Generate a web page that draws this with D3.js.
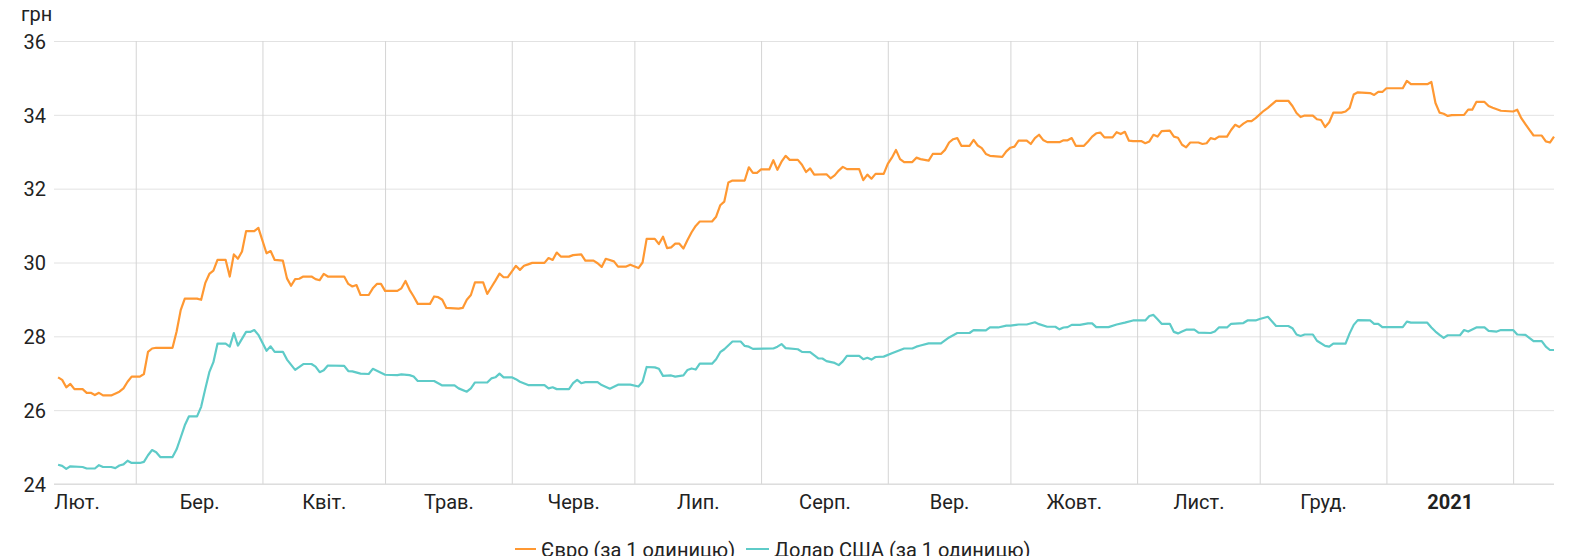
<!DOCTYPE html>
<html><head><meta charset="utf-8">
<script src="https://cdn.jsdelivr.net/npm/d3@7"></script>
<style>
html,body{margin:0;padding:0;background:#fff;overflow:hidden}
svg{display:block;font-family:Roboto,"Noto Sans",sans-serif}
</style></head><body>
<svg id="chart" width="1577" height="556"></svg>
<script>
const yTicks = [24, 26, 28, 30, 32, 34, 36];
const monthLabels = ["Лют.","Бер.","Квіт.","Трав.","Черв.","Лип.","Серп.","Вер.","Жовт.","Лист.","Груд.","2021"];
const seriesNames = ["Євро (за 1 одиницю)", "Долар США (за 1 одиницю)"];
const yUnit = "грн";

const euroRates = [
["2020-02-11",26.89],["2020-02-12",26.82],["2020-02-13",26.62],["2020-02-14",26.71],["2020-02-15",26.57],["2020-02-17",26.57],["2020-02-18",26.47],["2020-02-19",26.47],["2020-02-20",26.41],["2020-02-21",26.47],["2020-02-22",26.40],["2020-02-24",26.40],["2020-02-26",26.50],["2020-02-27",26.59],["2020-02-28",26.77],["2020-02-29",26.91],
["2020-03-02",26.91],["2020-03-03",26.98],["2020-03-04",27.58],["2020-03-05",27.67],["2020-03-06",27.69],["2020-03-10",27.69],["2020-03-11",28.13],["2020-03-12",28.71],["2020-03-13",29.02],["2020-03-16",29.02],["2020-03-17",28.99],["2020-03-18",29.44],["2020-03-19",29.69],["2020-03-20",29.78],["2020-03-21",30.07],["2020-03-23",30.07],["2020-03-24",29.62],["2020-03-25",30.22],["2020-03-26",30.10],["2020-03-27",30.30],["2020-03-28",30.85],["2020-03-30",30.85],["2020-03-31",30.94],
["2020-04-02",30.25],["2020-04-03",30.31],["2020-04-04",30.07],["2020-04-06",30.05],["2020-04-07",29.57],["2020-04-08",29.37],["2020-04-09",29.55],["2020-04-10",29.56],["2020-04-11",29.62],["2020-04-13",29.62],["2020-04-14",29.55],["2020-04-15",29.52],["2020-04-16",29.69],["2020-04-17",29.62],["2020-04-21",29.62],["2020-04-22",29.42],["2020-04-23",29.35],["2020-04-24",29.39],["2020-04-25",29.12],["2020-04-27",29.12],["2020-04-28",29.30],["2020-04-29",29.42],["2020-04-30",29.42],
["2020-05-01",29.23],["2020-05-04",29.23],["2020-05-05",29.30],["2020-05-06",29.50],["2020-05-07",29.26],["2020-05-08",29.08],["2020-05-09",28.88],["2020-05-12",28.88],["2020-05-13",29.08],["2020-05-14",29.06],["2020-05-15",28.99],["2020-05-16",28.77],["2020-05-19",28.75],["2020-05-20",28.77],["2020-05-21",28.99],["2020-05-22",29.12],["2020-05-23",29.46],["2020-05-25",29.46],["2020-05-26",29.15],["2020-05-27",29.33],["2020-05-28",29.51],["2020-05-29",29.70],["2020-05-30",29.60],["2020-05-31",29.60],
["2020-06-02",29.91],["2020-06-03",29.80],["2020-06-04",29.91],["2020-06-05",29.95],["2020-06-06",29.99],["2020-06-09",29.99],["2020-06-10",30.12],["2020-06-11",30.07],["2020-06-12",30.27],["2020-06-13",30.16],["2020-06-15",30.16],["2020-06-16",30.20],["2020-06-18",30.22],["2020-06-19",30.05],["2020-06-21",30.05],["2020-06-22",29.98],["2020-06-23",29.88],["2020-06-24",30.10],["2020-06-26",30.03],["2020-06-27",29.89],["2020-06-29",29.89],["2020-06-30",29.94],
["2020-07-02",29.85],["2020-07-03",30.00],["2020-07-04",30.64],["2020-07-06",30.64],["2020-07-07",30.50],["2020-07-08",30.70],["2020-07-09",30.39],["2020-07-10",30.41],["2020-07-11",30.51],["2020-07-12",30.51],["2020-07-13",30.38],["2020-07-14",30.61],["2020-07-15",30.82],["2020-07-16",30.99],["2020-07-17",31.11],["2020-07-20",31.11],["2020-07-21",31.24],["2020-07-22",31.55],["2020-07-23",31.65],["2020-07-24",32.17],["2020-07-25",32.22],["2020-07-28",32.22],["2020-07-29",32.58],["2020-07-30",32.43],["2020-07-31",32.43],
["2020-08-01",32.52],["2020-08-03",32.52],["2020-08-04",32.77],["2020-08-05",32.51],["2020-08-06",32.73],["2020-08-07",32.89],["2020-08-08",32.78],["2020-08-10",32.78],["2020-08-11",32.65],["2020-08-12",32.45],["2020-08-13",32.55],["2020-08-14",32.38],["2020-08-17",32.39],["2020-08-18",32.28],["2020-08-19",32.36],["2020-08-20",32.49],["2020-08-21",32.59],["2020-08-22",32.53],["2020-08-25",32.53],["2020-08-26",32.23],["2020-08-27",32.38],["2020-08-28",32.27],["2020-08-29",32.40],["2020-08-31",32.40],
["2020-09-01",32.67],["2020-09-02",32.84],["2020-09-03",33.05],["2020-09-04",32.80],["2020-09-05",32.72],["2020-09-07",32.72],["2020-09-08",32.84],["2020-09-09",32.80],["2020-09-11",32.76],["2020-09-12",32.94],["2020-09-14",32.94],["2020-09-15",33.05],["2020-09-16",33.25],["2020-09-17",33.34],["2020-09-18",33.37],["2020-09-19",33.16],["2020-09-21",33.16],["2020-09-22",33.32],["2020-09-23",33.17],["2020-09-24",33.10],["2020-09-25",32.94],["2020-09-26",32.89],["2020-09-29",32.86],["2020-09-30",33.01],
["2020-10-01",33.11],["2020-10-02",33.14],["2020-10-03",33.30],["2020-10-05",33.30],["2020-10-06",33.21],["2020-10-07",33.37],["2020-10-08",33.46],["2020-10-09",33.32],["2020-10-10",33.26],["2020-10-13",33.26],["2020-10-14",33.31],["2020-10-15",33.31],["2020-10-16",33.37],["2020-10-17",33.16],["2020-10-19",33.16],["2020-10-20",33.28],["2020-10-21",33.41],["2020-10-22",33.50],["2020-10-23",33.52],["2020-10-24",33.39],["2020-10-26",33.39],["2020-10-27",33.53],["2020-10-28",33.48],["2020-10-29",33.54],["2020-10-30",33.30],["2020-10-31",33.29],
["2020-11-02",33.29],["2020-11-03",33.23],["2020-11-04",33.28],["2020-11-05",33.46],["2020-11-06",33.41],["2020-11-07",33.56],["2020-11-09",33.57],["2020-11-10",33.41],["2020-11-11",33.38],["2020-11-12",33.19],["2020-11-13",33.12],["2020-11-14",33.25],["2020-11-16",33.25],["2020-11-17",33.21],["2020-11-18",33.23],["2020-11-19",33.37],["2020-11-20",33.34],["2020-11-21",33.41],["2020-11-23",33.41],["2020-11-24",33.59],["2020-11-25",33.73],["2020-11-26",33.67],["2020-11-27",33.76],["2020-11-28",33.83],["2020-11-29",33.83],["2020-11-30",33.91],
["2020-12-02",34.11],["2020-12-03",34.19],["2020-12-05",34.38],["2020-12-08",34.38],["2020-12-09",34.24],["2020-12-10",34.05],["2020-12-11",33.94],["2020-12-12",33.98],["2020-12-14",33.98],["2020-12-15",33.88],["2020-12-16",33.86],["2020-12-17",33.67],["2020-12-18",33.80],["2020-12-19",34.06],["2020-12-21",34.06],["2020-12-22",34.09],["2020-12-23",34.19],["2020-12-24",34.55],["2020-12-25",34.61],["2020-12-28",34.59],["2020-12-29",34.54],["2020-12-30",34.62],["2020-12-31",34.62],
["2021-01-01",34.72],["2021-01-05",34.72],["2021-01-06",34.92],["2021-01-07",34.83],["2021-01-11",34.83],["2021-01-12",34.89],["2021-01-13",34.32],["2021-01-14",34.06],["2021-01-15",34.03],["2021-01-16",33.97],["2021-01-17",33.99],["2021-01-20",34.00],["2021-01-21",34.14],["2021-01-22",34.14],["2021-01-23",34.35],["2021-01-25",34.35],["2021-01-26",34.24],["2021-01-27",34.19],["2021-01-29",34.11],
["2021-02-01",34.09],["2021-02-02",34.14],["2021-02-03",33.91],["2021-02-04",33.75],["2021-02-05",33.59],["2021-02-06",33.44],["2021-02-08",33.44],["2021-02-09",33.28],["2021-02-10",33.25],["2021-02-11",33.41]
];

const usdRates = [
["2020-02-11",24.52],["2020-02-12",24.49],["2020-02-13",24.41],["2020-02-14",24.48],["2020-02-17",24.46],["2020-02-18",24.42],["2020-02-20",24.42],["2020-02-21",24.51],["2020-02-22",24.46],["2020-02-24",24.46],["2020-02-25",24.43],["2020-02-26",24.50],["2020-02-27",24.53],["2020-02-28",24.63],["2020-02-29",24.57],
["2020-03-02",24.57],["2020-03-03",24.60],["2020-03-04",24.78],["2020-03-05",24.92],["2020-03-06",24.86],["2020-03-07",24.73],["2020-03-10",24.73],["2020-03-11",24.94],["2020-03-12",25.26],["2020-03-13",25.59],["2020-03-14",25.83],["2020-03-16",25.83],["2020-03-17",26.09],["2020-03-18",26.57],["2020-03-19",27.03],["2020-03-20",27.30],["2020-03-21",27.80],["2020-03-23",27.80],["2020-03-24",27.72],["2020-03-25",28.09],["2020-03-26",27.75],["2020-03-28",28.12],["2020-03-29",28.12],["2020-03-30",28.17],["2020-03-31",28.04],
["2020-04-02",27.61],["2020-04-03",27.73],["2020-04-04",27.58],["2020-04-06",27.58],["2020-04-07",27.37],["2020-04-09",27.09],["2020-04-11",27.25],["2020-04-13",27.25],["2020-04-14",27.18],["2020-04-15",27.03],["2020-04-16",27.08],["2020-04-17",27.21],["2020-04-21",27.20],["2020-04-22",27.06],["2020-04-23",27.05],["2020-04-25",26.99],["2020-04-27",26.98],["2020-04-28",27.12],["2020-04-29",27.07],
["2020-05-01",26.96],["2020-05-04",26.95],["2020-05-05",26.97],["2020-05-07",26.95],["2020-05-08",26.91],["2020-05-09",26.79],["2020-05-13",26.79],["2020-05-15",26.67],["2020-05-18",26.67],["2020-05-19",26.59],["2020-05-21",26.50],["2020-05-22",26.59],["2020-05-23",26.75],["2020-05-26",26.75],["2020-05-27",26.86],["2020-05-28",26.89],["2020-05-29",26.99],["2020-05-30",26.89],
["2020-06-01",26.89],["2020-06-02",26.84],["2020-06-03",26.77],["2020-06-05",26.68],["2020-06-09",26.68],["2020-06-10",26.59],["2020-06-11",26.62],["2020-06-12",26.57],["2020-06-15",26.57],["2020-06-16",26.73],["2020-06-17",26.82],["2020-06-18",26.73],["2020-06-19",26.76],["2020-06-22",26.76],["2020-06-23",26.68],["2020-06-25",26.58],["2020-06-27",26.69],["2020-06-30",26.69],
["2020-07-02",26.64],["2020-07-03",26.77],["2020-07-04",27.17],["2020-07-06",27.16],["2020-07-07",27.12],["2020-07-08",26.93],["2020-07-10",26.94],["2020-07-11",26.91],["2020-07-13",26.94],["2020-07-14",27.09],["2020-07-15",27.13],["2020-07-16",27.10],["2020-07-17",27.26],["2020-07-20",27.26],["2020-07-21",27.38],["2020-07-22",27.57],["2020-07-23",27.65],["2020-07-25",27.86],["2020-07-27",27.86],["2020-07-28",27.74],["2020-07-29",27.72],["2020-07-30",27.66],
["2020-08-04",27.67],["2020-08-05",27.72],["2020-08-06",27.79],["2020-08-07",27.68],["2020-08-10",27.65],["2020-08-11",27.58],["2020-08-13",27.57],["2020-08-15",27.40],["2020-08-16",27.40],["2020-08-17",27.33],["2020-08-19",27.28],["2020-08-20",27.22],["2020-08-21",27.32],["2020-08-22",27.47],["2020-08-25",27.47],["2020-08-26",27.38],["2020-08-27",27.42],["2020-08-28",27.37],["2020-08-29",27.44],["2020-08-31",27.45],
["2020-09-02",27.54],["2020-09-05",27.67],["2020-09-07",27.67],["2020-09-08",27.72],["2020-09-09",27.75],["2020-09-11",27.81],["2020-09-14",27.81],["2020-09-16",27.97],["2020-09-18",28.09],["2020-09-21",28.09],["2020-09-22",28.17],["2020-09-25",28.16],["2020-09-26",28.24],["2020-09-28",28.24],["2020-09-30",28.29],
["2020-10-01",28.29],["2020-10-03",28.32],["2020-10-05",28.32],["2020-10-07",28.38],["2020-10-08",28.33],["2020-10-10",28.26],["2020-10-12",28.26],["2020-10-13",28.19],["2020-10-14",28.24],["2020-10-15",28.25],["2020-10-16",28.31],["2020-10-18",28.31],["2020-10-20",28.35],["2020-10-21",28.35],["2020-10-22",28.25],["2020-10-25",28.25],["2020-10-27",28.32],["2020-10-29",28.37],["2020-10-31",28.43],
["2020-11-03",28.43],["2020-11-04",28.55],["2020-11-05",28.58],["2020-11-06",28.46],["2020-11-07",28.34],["2020-11-09",28.34],["2020-11-10",28.12],["2020-11-11",28.08],["2020-11-12",28.13],["2020-11-13",28.18],["2020-11-15",28.18],["2020-11-16",28.10],["2020-11-19",28.09],["2020-11-20",28.13],["2020-11-21",28.24],["2020-11-23",28.24],["2020-11-24",28.34],["2020-11-27",28.36],["2020-11-28",28.43],["2020-11-30",28.43],
["2020-12-01",28.47],["2020-12-03",28.53],["2020-12-05",28.28],["2020-12-08",28.28],["2020-12-09",28.22],["2020-12-10",28.05],["2020-12-11",28.01],["2020-12-12",28.05],["2020-12-14",28.05],["2020-12-15",27.88],["2020-12-17",27.74],["2020-12-18",27.72],["2020-12-19",27.80],["2020-12-22",27.80],["2020-12-23",28.08],["2020-12-24",28.31],["2020-12-25",28.44],["2020-12-28",28.43],["2020-12-29",28.34],["2020-12-30",28.34],["2020-12-31",28.25],
["2021-01-05",28.25],["2021-01-06",28.40],["2021-01-07",28.37],["2021-01-11",28.37],["2021-01-12",28.24],["2021-01-13",28.13],["2021-01-14",28.04],["2021-01-15",27.96],["2021-01-16",28.03],["2021-01-19",28.03],["2021-01-20",28.17],["2021-01-21",28.13],["2021-01-23",28.24],["2021-01-25",28.24],["2021-01-26",28.15],["2021-01-28",28.13],["2021-01-29",28.17],
["2021-02-01",28.17],["2021-02-02",28.05],["2021-02-04",28.04],["2021-02-06",27.87],["2021-02-08",27.87],["2021-02-09",27.72],["2021-02-10",27.63],["2021-02-11",27.63]
];

const colors = ["#ff9832", "#5ecbc8"];
const FONT = "Roboto, 'Noto Sans', sans-serif";

const svg = d3.select("#chart");
const mLeft = 54, mRight = 1554, mTop = 41, mBottom = 484;
const parse = d3.utcParse("%Y-%m-%d");
const startDate = parse("2020-02-10"), endDate = parse("2021-02-11");

const x = d3.scaleUtc().domain([startDate, endDate]).range([mLeft, mRight]);
const y = d3.scaleLinear().domain([24, 36]).range([mBottom, mTop]);

// horizontal grid
svg.append("g").attr("transform", `translate(${mLeft},0)`)
  .call(d3.axisLeft(y).tickValues(yTicks).tickSize(-(mRight-mLeft)).tickFormat(""))
  .call(g => g.select(".domain").remove())
  .call(g => g.selectAll("line").attr("stroke", "#e2e2e2").attr("stroke-width", 1));

// vertical month grid
const monthStarts = d3.utcMonth.range(d3.utcMonth.ceil(startDate), endDate);
svg.append("g").attr("transform", `translate(0,${mBottom})`)
  .call(d3.axisBottom(x).tickValues(monthStarts).tickSize(-(mBottom-mTop)).tickFormat(""))
  .call(g => g.select(".domain").remove())
  .call(g => g.selectAll("line").attr("stroke", "#d4d4d4").attr("stroke-width", 1));

// baseline
svg.append("line").attr("x1", mLeft).attr("x2", mRight).attr("y1", y(24)).attr("y2", y(24))
  .attr("stroke", "#d8d8d8");

// y labels
svg.append("g").attr("transform", `translate(46,0)`)
  .call(d3.axisLeft(y).tickValues(yTicks).tickSize(0).tickPadding(0).tickFormat(d3.format("d")))
  .call(g => g.select(".domain").remove())
  .attr("font-family", FONT).attr("font-size", 20)
  .call(g => g.selectAll("text").attr("fill", "#222").attr("dy", "0.36em"));

svg.append("text").attr("x", 21).attr("y", 21).attr("fill", "#222")
  .attr("font-family", FONT).attr("font-size", 20).text(yUnit);

// month labels centred in each month
const monthFirsts = d3.utcMonth.range(d3.utcMonth.floor(startDate), d3.utcMonth.floor(endDate));
const mids = monthFirsts.map(m => new Date((m.getTime() + d3.utcMonth.offset(m, 1).getTime()) / 2));
const xAxis = svg.append("g").attr("transform", `translate(0,${mBottom})`)
  .call(d3.axisBottom(x).tickValues(mids).tickSize(0).tickPadding(0)
    .tickFormat((d, i) => monthLabels[i]))
  .call(g => g.select(".domain").remove())
  .attr("font-family", FONT).attr("font-size", 20);
xAxis.selectAll("text").attr("fill", "#222")
  .attr("y", 25).attr("dy", 0)
  .attr("font-weight", (d, i) => monthLabels[i] === "2021" ? "bold" : "normal");

// lines
const line = d3.line().x(d => x(parse(d[0]))).y(d => y(d[1])).curve(d3.curveLinear);
[euroRates, usdRates].forEach((s, i) => {
  svg.append("path").datum(s).attr("d", line).attr("fill", "none")
    .attr("stroke", colors[i]).attr("stroke-width", 2.2).attr("stroke-linejoin", "round");
});

// legend
const legendPos = [{x: 515, w: 21}, {x: 746, w: 23}];
seriesNames.forEach((n, i) => {
  const g = svg.append("g");
  g.append("line").attr("x1", legendPos[i].x).attr("x2", legendPos[i].x + legendPos[i].w)
    .attr("y1", 549).attr("y2", 549).attr("stroke", colors[i]).attr("stroke-width", 2);
  g.append("text").attr("x", legendPos[i].x + legendPos[i].w + 5).attr("y", 557)
    .attr("fill", "#222").attr("font-family", FONT).attr("font-size", 20).text(n);
});
</script>
</body></html>
